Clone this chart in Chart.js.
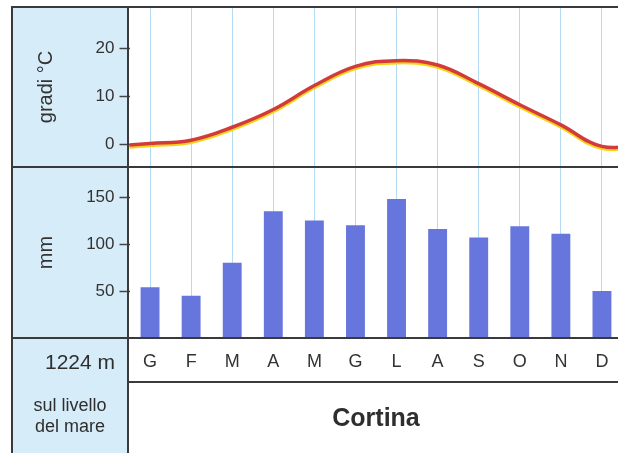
<!DOCTYPE html>
<html lang="it">
<head>
<meta charset="utf-8">
<title>Cortina</title>
<script src="https://cdn.jsdelivr.net/npm/chart.js@4.4.1/dist/chart.umd.min.js"></script>
<style>
    html, body { margin: 0; padding: 0; background: #fff; overflow: hidden; }
    #pagina { position: relative; width: 618px; height: 453px; overflow: hidden; font-family: "Liberation Sans", Arial, sans-serif; color: #2e2e2e; }
    #colonna { position: absolute; left: 12px; top: 7px; width: 116px; height: 446px; background: #d7ecf9; }
    #contenitore { position: absolute; left: 0; top: 0; width: 640px; height: 400px; }
    .linea { position: absolute; background: #3a3a3a; }
    .testo { position: absolute; white-space: nowrap; }
</style>
</head>
<body>
<div id="pagina">
    <div id="colonna"></div>
    <div id="contenitore"><canvas id="myChart"></canvas></div>

    <!-- cornice -->
    <div class="linea" style="left:12px; top:6px; width:606px; height:2px;"></div>
    <div class="linea" style="left:11px; top:6px; width:2px; height:447px;"></div>
    <div class="linea" style="left:127px; top:6px; width:2px; height:447px;"></div>
    <div class="linea" style="left:12px; top:166px; width:606px; height:2px;"></div>
    <div class="linea" style="left:12px; top:337px; width:606px; height:2px;"></div>
    <div class="linea" style="left:128px; top:381px; width:490px; height:2px;"></div>

    <div class="testo" style="right:503px; top:350px; font-size:21px;">1224 m</div>
    <div class="testo" style="left:12px; width:116px; top:395px; font-size:18px; line-height:21px; text-align:center; white-space:normal;">sul livello<br>del mare</div>
    <div class="testo" style="left:129px; width:494px; top:403px; font-size:25px; font-weight:bold; text-align:center;">Cortina</div>
</div>

<script>
// dati
const mesi = ['G', 'F', 'M', 'A', 'M', 'G', 'L', 'A', 'S', 'O', 'N', 'D'];
const temperature = [0.1, 0.8, 3.5, 7.2, 12.2, 16.2, 17.4, 16.5, 12.6, 8.2, 4.0, -0.5];
const precipitazioni = [54, 45, 80, 135, 125, 120, 148, 116, 107, 119, 111, 50];
const tickTemperatura = [0, 10, 20];
const tickPrecipitazioni = [50, 100, 150];

Chart.defaults.font.family = '"Liberation Sans", Arial, sans-serif';
Chart.defaults.color = '#2e2e2e';

// la curva e' ciclica: dicembre prima di gennaio e gennaio dopo dicembre
var puntiTemp = [{ x: 0, y: temperature[temperature.length - 1] }];
for (var i = 0; i < temperature.length; ++i) {
    puntiTemp.push({ x: i + 1, y: temperature[i] });
}
puntiTemp.push({ x: temperature.length + 1, y: temperature[0] });

// ombra gialla sotto la curva rossa
const ombraGialla = {
    id: 'ombraGialla',
    beforeDatasetDraw(chart, args) {
        if (args.meta.type !== 'line') return;
        const ctx = chart.ctx;
        ctx.save();
        ctx.shadowColor = '#f3d417';
        ctx.shadowOffsetY = 2;
        ctx.shadowBlur = 0;
    },
    afterDatasetDraw(chart, args) {
        if (args.meta.type !== 'line') return;
        chart.ctx.restore();
    }
};

function tickFissi(lista) {
    return function (scale) {
        scale.ticks = lista.map(function (v) { return { value: v }; });
    };
}

function larghezzaFissa(s) {
    s.width = 117.5;
    s.paddingTop = 0;
    s.paddingBottom = 0;
}

const ctx = document.getElementById('myChart').getContext('2d');
const myChart = new Chart(ctx, {
    type: 'bar',
    data: {
        labels: mesi,
        datasets: [{
            label: 'mm',
            data: precipitazioni,
            xAxisID: 'x',
            yAxisID: 'yP',
            backgroundColor: '#6676dc',
            borderWidth: 0,
            grouped: false,
            barPercentage: 0.92,
            categoryPercentage: 0.5
        }, {
            type: 'line',
            label: 'gradi °C',
            data: puntiTemp,
            xAxisID: 'xt',
            yAxisID: 'yT',
            borderColor: '#d33b3b',
            borderWidth: 3.5,
            tension: 0.4,
            pointRadius: 0,
            fill: false
        }]
    },
    options: {
        responsive: true,
        maintainAspectRatio: false,
        animation: false,
        layout: {
            padding: { left: 12, top: 7, right: 17.5, bottom: 17 }
        },
        plugins: {
            legend: { display: false },
            tooltip: { enabled: false }
        },
        scales: {
            x: {
                type: 'category',
                offset: true,
                border: { display: false },
                grid: { offset: false, color: '#b3dbf3', lineWidth: 1, drawTicks: false },
                ticks: { font: { size: 18 }, padding: 13, color: '#333' },
                afterFit: function (s) {
                    s.height = 45;
                    s.paddingLeft = 0;
                    s.paddingRight = 0;
                }
            },
            xt: {
                type: 'linear',
                display: false,
                offset: false,
                bounds: 'ticks',
                min: 0.5,
                max: 12.5
            },
            yT: {
                type: 'linear',
                position: 'left',
                stack: 'clima',
                stackWeight: 160,
                weight: 1,
                min: -4.8,
                max: 28.6,
                afterBuildTicks: tickFissi(tickTemperatura),
                border: { display: false },
                grid: { drawOnChartArea: false, tickLength: 10, tickColor: '#444', tickWidth: 1.5 },
                ticks: { font: { size: 17 }, padding: 5, color: '#333' },
                title: { display: true, text: 'gradi °C', font: { size: 20 }, padding: { top: 22, bottom: 0 }, color: '#333' },
                afterFit: larghezzaFissa
            },
            yP: {
                type: 'linear',
                position: 'left',
                stack: 'clima',
                stackWeight: 171,
                weight: 0,
                min: 0,
                max: 182,
                afterBuildTicks: tickFissi(tickPrecipitazioni),
                border: { display: false },
                grid: { drawOnChartArea: false, tickLength: 10, tickColor: '#444', tickWidth: 1.5 },
                ticks: { font: { size: 17 }, padding: 5, color: '#333' },
                title: { display: true, text: 'mm', font: { size: 20 }, padding: { top: 22, bottom: 0 }, color: '#333' },
                afterFit: larghezzaFissa
            }
        }
    },
    plugins: [ombraGialla]
});
</script>
</body>
</html>
